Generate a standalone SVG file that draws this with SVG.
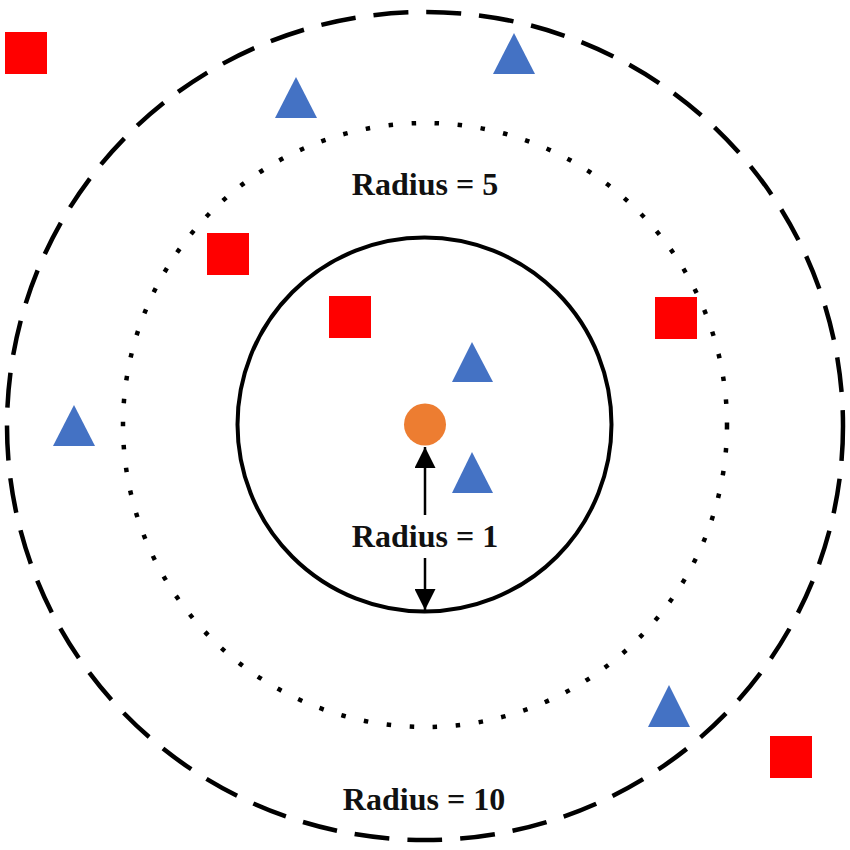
<svg xmlns="http://www.w3.org/2000/svg" width="850" height="850" viewBox="0 0 850 850">
<style>
.sq{fill:#FF0000}
.tri{fill:#4472C4}
.lbl{font-family:"Liberation Serif","Times New Roman",serif;font-weight:bold;font-size:32px;fill:#111;text-anchor:middle}
.ring{fill:none;stroke:#000}
</style>
<defs>
<marker id="ah" viewBox="0 0 22 21" refX="21" refY="10.5" markerWidth="22" markerHeight="21" markerUnits="userSpaceOnUse" orient="auto">
<path d="M0,0 L21,10.5 L0,21 Z" fill="#000"/>
</marker>
</defs>
<rect width="850" height="850" fill="#fff"/>
<g id="rings">
<ellipse id="ring10" class="ring" cx="425" cy="426" rx="418" ry="414" stroke-width="4.5" stroke-dasharray="35 18"/>
<circle id="ring5" class="ring" cx="425" cy="425" r="302" stroke-width="4.5" stroke-dasharray="4.5 18.6"/>
<circle id="ring1" class="ring" cx="424.5" cy="424.5" r="187" stroke-width="4"/>
</g>
<g id="squares">
<rect id="sq1" class="sq" x="5" y="32" width="42" height="42"/>
<rect id="sq2" class="sq" x="207" y="233" width="42" height="42"/>
<rect id="sq3" class="sq" x="329" y="296" width="42" height="42"/>
<rect id="sq4" class="sq" x="655" y="297" width="42" height="42"/>
<rect id="sq5" class="sq" x="770" y="736" width="42" height="42"/>
</g>
<g id="triangles">
<polygon id="tri1" class="tri" points="296,77 275,118 317,118"/>
<polygon id="tri2" class="tri" points="514,33 493,74 535,74"/>
<polygon id="tri3" class="tri" points="472,342 452,382 493,382"/>
<polygon id="tri4" class="tri" points="472,452 452,493 493,493"/>
<polygon id="tri5" class="tri" points="74,405 53,446 95,446"/>
<polygon id="tri6" class="tri" points="669,685 648,727 690,727"/>
</g>
<g id="query">
<circle cx="425" cy="424.5" r="21" fill="#ED7D31"/>
</g>
<g id="connectors">
<line x1="425" y1="515" x2="425" y2="447" stroke="#000" stroke-width="2.5" marker-end="url(#ah)"/>
<line x1="425" y1="558" x2="425" y2="610" stroke="#000" stroke-width="2.5" marker-end="url(#ah)"/>
</g>
<g id="labels">
<text class="lbl" x="425" y="195">Radius = 5</text>
<text class="lbl" x="425" y="547">Radius = 1</text>
<text class="lbl" x="424" y="810">Radius = 10</text>
</g>
</svg>
